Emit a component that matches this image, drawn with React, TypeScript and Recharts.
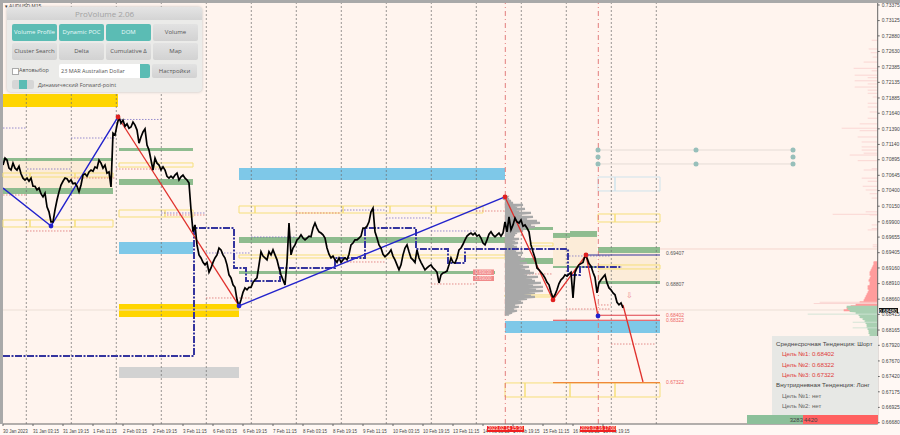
import React from 'react'
import {
  ComposedChart,
  Line,
  XAxis,
  YAxis,
  ReferenceArea,
  ReferenceLine,
  ReferenceDot
} from 'recharts'

// hourly-ish closes, AUDUSD
const legJan = [.7081,.7092,.7089,.7076,.7073,.7084,.7076,.7073,.7079,.7067,.7060,.7057,.7060,.7055,.7060,.7047,.7047,.7041,.7044,.7035,.7030,.7036,.7014,.7006,.6990,.6990,.7009,.7025,.7038,.7049,.7055,.7060,.7059,.7054,.7057,.7051,.7052,.7047,.7038,.7049,.7065,.7067,.7063,.7070,.7073,.7071,.7078,.7076,.7089,.7084,.7076,.7081,.7068,.7070,.7046]
const legFebA = [.7132,.7129,.7145,.7158,.7148,.7153,.7143,.7147,.7140,.7142,.7150,.7145,.7137,.7116,.7126,.7134,.7139,.7113,.7105,.7089,.7073,.7092,.7084,.7081,.7073,.7078,.7073,.7063,.7060,.7063,.7060,.7065,.7068,.7057,.7062,.7065,.7060,.7057,.7052]
const legFebB = [.7009,.6974,.6985,.6953,.6937,.6932,.6925,.6921,.6925,.6909,.6916,.6925,.6932,.6937,.6948,.6945,.6937,.6932,.6921,.6905,.6900,.6889,.6885,.6865,.6855,.6865,.6877,.6884,.6881,.6885,.6885,.6893,.6897,.6900,.6921,.6942,.6935,.6932,.6929,.6942,.6937,.6945,.6937,.6929,.6916,.6905,.6897,.6889,.6925,.6988,.6937,.6948,.6953,.6961]
const legFebC = [.6964,.6969,.6964,.6961,.6964,.6967,.6966,.6980,.6988,.6980,.6974,.6972,.6969,.6964,.6948,.6938,.6932,.6935,.6929,.6925,.6932,.6925,.6929,.6932,.6929,.6938,.6953,.6956,.6961,.6961,.6964,.6967,.6980,.6980,.6983,.6990,.7006,.7012,.6974,.6964,.6953,.6948,.6938,.6934,.6937,.6940,.6945,.6935,.6929,.6921,.6913,.6921,.6937,.6948,.6953,.6942,.6932,.6929,.6925,.6945,.6932,.6925,.6919,.6913,.6916,.6919,.6921,.6916,.6913,.6909,.6892,.6905,.6908,.6909,.6911,.6921,.6932,.6925,.6924,.6932,.6945,.6948,.6954,.6961,.6967,.6970,.6972,.6969,.6972,.6967,.6969,.6964,.6956,.6953,.6961,.6970,.6974,.6969,.6966,.6969,.6972,.6967,.6972]
const legFebD = [.6990,.6974,.6998,.6977,.6985,.6996,.6990,.6988,.6993,.6983,.6985,.6980,.6974,.6953,.6942,.6932,.6916,.6913,.6909,.6905,.6900,.6893,.6889,.6877,.6868,.6873,.6881,.6891,.6897,.6900,.6905,.6903,.6906,.6909,.6868,.6909,.6916,.6921,.6923,.6925,.6935,.6932,.6923,.6919,.6909,.6901,.6876,.6892,.6897,.6901,.6905,.6892,.6884,.6881,.6876,.6873,.6861,.6857,.6860,.6852]
const closes = [...legJan, ...legFebA, ...legFebB, ...legFebC, ...legFebD]

const priceTicks = [.73375,.73125,.7288,.7263,.72385,.72135,.71885,.7164,.7139,.7114,.70895,.70645,.704,.7015,.699,.69655,.69405,.6916,.6891,.6866,.68415,.68165,.6792,.6767,.6742,.67175,.66925,.6668]
const timeLabels = ['30 Jan 2023','31 Jan 03:15','31 Jan 19:15','1 Feb 11:15','2 Feb 03:15','2 Feb 19:15','3 Feb 11:15','6 Feb 03:15','6 Feb 19:15','7 Feb 11:15','8 Feb 03:15','8 Feb 19:15','9 Feb 11:15','10 Feb 03:15','10 Feb 19:15','13 Feb 11:15','14 Feb 03:15','14 Feb 19:15','15 Feb 11:15','16 Feb 03:15','16 Feb 19:15']
const timeTicks = timeLabels.map((_, i) => i * 15)
const dayLines = [11.65,34.15,56.65,79.15,101.65,124.15,146.65,169.15,191.65,214.15,236.65,259.15,281.65,304.15,326.65]
const signalBars = [251.15, 297.65]

// zones: [from bar, to bar, upper price, lower price]
type Zone = number[]
const wheatZones: Zone[] = [[0,55,.70875,.70442],[275,297,.69656,.69192],[297.5,328.5,.694,.68951]]
const goldZones: Zone[] = [[0,57.5,.71949,.7174],[58,118,.68583,.68374]]
const greyZones: Zone[] = [[58,118,.67573,.67397]]
const skyZones: Zone[] = [[58,95,.69576,.69384],[118,251,.70762,.7057],[251,328.5,.6831,.68118]]
const greenZones: Zone[] = [
  [0,55,.70923,.70875],[0,55,.70442,.70346],[58,95,.71083,.71035],[58,95,.70586,.7049],
  [118,251,.69656,.6956],[118,246,.69112,.69064],[251,275,.69817,.69769],[251,275,.6932,.69224],
  [275,283.5,.69721,.69641],[283.5,297,.69753,.69657],[275,297,.69192,.6916],
  [297.5,328.5,.69496,.694],[297.5,328.5,.68951,.68903]
]
const yellowBoxes: Zone[] = [
  [0,13.5,.69929,.69817],[13.5,36,.69929,.69817],[36,55,.69929,.69817],
  [0,13.5,.70682,.70618],[13.5,36,.70682,.70618],[36,55,.70682,.70618],
  [58,81,.70089,.69977],[81,95,.70089,.69977],[58,95,.70843,.70778],
  [118,126,.70153,.70041],[126,170,.70153,.70041],[170,193.5,.70153,.70041],[193.5,216.5,.70153,.70041],[216.5,240,.70153,.70041],
  [118,170,.69368,.6932],[170,251,.69368,.6932],[263.5,275,.6956,.69512],[251,275,.68727,.68695],
  [297.5,306,.70025,.69897],[306,328.5,.70025,.69897],[297.5,328.5,.69208,.69144],
  [251,261,.67317,.67092],[261,283.5,.67317,.67092],[283.5,306,.67317,.67092],[306,328.5,.67317,.67092]
]
const paleBoxes: Zone[] = [[297.5,306,.70618,.70394],[306,328.5,.70618,.70394]]

// daily level stubs: [from bar, to bar, price]
const purpleStubs = [[0,11.5,.71403],[34,56.5,.71243],[57.5,79,.7154],[12,34,.70746],[79,101.5,.70041],[101.5,124,.694],[124,146.5,.69656],[169,191.5,.70089],[191.5,214,.69961],[214,236.5,.69753],[251,258.5,.70057],[281.5,304,.69352]]
const redStubs = [[0,12,.7033],[12,34,.69753],[34,56.5,.70602],[56.5,79,.70746],[82,101,.70009],[101.5,124,.68679],[169,191.5,.69256],[214,236.5,.68903],[251,275,.69064],[281.5,304,.68502],[297.5,304,.68567],[304,326.5,.67941],[146.5,169,.70041],[236.5,259,.70073]]

// stepped volume line
const stepBars = [0,95.5,95.5,115.5,115.5,121.5,121.5,138.5,138.5,166,166,181,181,206.5,206.5,222.5,222.5,231,231,282.5,282.5,288.5,288.5,309.5]
const stepPrices = [.67749,.67749,.69801,.69801,.6916,.6916,.68951,.68951,.6916,.6916,.6932,.6932,.69801,.69801,.69464,.69464,.6924,.6924,.69464,.69464,.69047,.69047,.69176,.69176]

const waveUpBars = [0,24,57.5]
const waveUpPrices = [.70442,.69833,.7158]
const longUpBars = [118,251]
const longUpPrices = [.68551,.70298]
const waveDownBars = [57.5,118]
const waveDownPrices = [.7158,.68551]
const lastWaveBars = [251,275,291.5,297.5]
const lastWavePrices = [.70298,.68647,.69368,.6839]
const forecastBars = [310,320]
const forecastPrices = [.68567,.67332]

const bluePivots = [[24,.69833],[118,.68551],[297.5,.6839]]
const redPivots = [[57.5,.7158],[251,.70298],[275,.68647],[291.5,.69368]]
const channelDots = [[297.5,.71051],[297.5,.70939],[297.5,.70827],[346.5,.71051],[346.5,.70827],[395,.71051],[395,.70939],[395,.70827]]
const channelPrices = [.71051,.70827]

const targetLevels = [.68402,.68322,.67322]
const targetStarts = [297.5,275,275]

// session profile next to the first signal line
const sessionVolumes = [2,4,6,8,18,12,20,14,26,16,28,22,32,35,26,30,20,18,12,10,9,14,10,13,9,12,14,11,18,13,16,20,15,22,18,24,20,25,29,22,33,27,30,36,28,38,31,38,30,26,30,22,16,18,10,14,9,12,7,4]
// big profile on the price axis
const sellVolumes = [4,4,5,6,7,8,8,7,8,9,8,8,10,10,9,10,11,12,13,14,18,22,27,31,34]
const buyVolumes = [31,30,28,22,19,18,15,13,12,11,11,10,9,9,8,8,7,6,5,4,4,3,2]
const sellSpikes = [[.7281,6],[.7267,9],[.7261,7],[.7254,5],[.7246,14],[.7236,24],[.7232,6],[.7225,23],[.7221,10],[.7216,23],[.7211,10],[.7206,23],[.7201,10],[.7196,10],[.7190,5],[.7180,10],[.7174,10],[.7166,8],[.7156,10],[.7147,18],[.7140,36],[.7136,18],[.7126,20],[.7118,16],[.7110,16],[.7105,16],[.7100,14],[.7097,28],[.7088,20],[.7075,6],[.7073,14],[.7060,16],[.7055,10],[.7047,15],[.7041,12],[.7035,8],[.7028,6],[.7006,12],[.7002,45],[.7001,8],[.6985,6],[.6979,6],[.6977,10],[.6953,5],[.6950,5],[.6861,58],[.6859,64]]
const buySpikes = [[.6842,70],[.6829,25],[.6820,25],[.6785,10],[.6745,15],[.6741,12],[.6696,12]]

const panelButtons = [
  ['Volume Profile', 'Dynamic POC', 'DOM', 'Volume'],
  ['Cluster Search', 'Delta', 'Cumulative Δ', 'Map']
]
const trendRows = [
  ['Среднесрочная Тенденция: Шорт', '#444', 776],
  ['Цель №1: 0.68402', '#e03a3a', 782],
  ['Цель №2: 0.68322', '#e03a3a', 782],
  ['Цель №3: 0.67322', '#e03a3a', 782],
  ['Внутридневная Тенденция: Лонг', '#444', 776],
  ['Цель №1: нет', '#666', 782],
  ['Цель №2: нет', '#666', 782]
]

const LAST_BAR = 437.35
const zip = (bars: number[], prices: number[]) => bars.map((bar, i) => ({ bar, price: prices[i] }))
const priceRows = closes.map((price, bar) => ({ bar, price }))

// zigzag through the rows so one line paints a filled histogram
const profileRows = (base: number, dir: number, top: number, step: number, vols: number[]) =>
  vols.flatMap((v, i) => {
    const price = top - i * step
    return [{ bar: base, price }, { bar: base + (dir * v) / 2, price }]
  })

const sessionRows = profileRows(251, 1, .70298, .00032, sessionVolumes)
const sellRows = profileRows(LAST_BAR, -1, .6925, .00032, sellVolumes)
const buyRows = profileRows(LAST_BAR, -1, .68535, .00032, buyVolumes)

const seg = (x1: number, x2: number, y: number) => [{ x: x1, y }, { x: x2, y }] as any
const font = 'Liberation Sans, Arial, sans-serif'

const TimeTick = ({ x, y, payload }: any) => (
  <text x={x} y={y + 5} fontSize={4.5} fontFamily={font} fill="#444" textAnchor="start">
    {timeLabels[payload.value / 15]}
  </text>
)

const lineProps = { dot: false, activeDot: false, isAnimationActive: false, legendType: 'none' as const, dataKey: 'price' }

const ProVolumePanel = () => (
  <div style={{ position: 'absolute', left: 7, top: 7, width: 195, height: 85, background: '#ebebe9', borderRadius: 4, boxShadow: '0 0 3px #bbb', fontFamily: 'Open Sans, sans-serif', color: '#555' }}>
    <div style={{ position: 'absolute', left: 0, top: 0, width: 195, height: 13, background: 'linear-gradient(#e4e4e4,#d4d4d4)', borderRadius: '4px 4px 0 0', textAlign: 'center', fontSize: 8, lineHeight: '14px', color: '#a2a2a2' }}>ProVolume 2.06</div>
    {panelButtons.map((row, r) =>
      row.map((name, c) => {
        const teal = r === 0 && c < 3
        return (
          <div key={name} style={{ position: 'absolute', left: 5 + c * 47, top: 17 + r * 19, width: 45, height: 17, borderRadius: 2, background: teal ? '#5bbcb4' : 'linear-gradient(#e2e2e2,#d2d2d2)', color: teal ? '#eafafa' : '#555', fontSize: 6, lineHeight: '17px', textAlign: 'center', whiteSpace: 'nowrap' }}>{name}</div>
        )
      })
    )}
    <div style={{ position: 'absolute', left: 5, top: 61, width: 5, height: 5, background: '#fff', border: '0.5px solid #aaa' }} />
    <div style={{ position: 'absolute', left: 12, top: 59, fontSize: 5.5, lineHeight: '9px' }}>Автовыбор</div>
    <div style={{ position: 'absolute', left: 52, top: 57, width: 91, height: 14, background: '#fff', borderRadius: 2, fontSize: 5.5, lineHeight: '14px', textIndent: 2 }}>23 MAR Australian Dollar</div>
    <div style={{ position: 'absolute', left: 133, top: 57, width: 10, height: 14, background: '#5bbcb4', borderRadius: '0 2px 2px 0' }} />
    <div style={{ position: 'absolute', left: 145, top: 57, width: 45, height: 14, background: 'linear-gradient(#e2e2e2,#d2d2d2)', borderRadius: 2, fontSize: 6, lineHeight: '14px', textAlign: 'center' }}>Настройки</div>
    <div style={{ position: 'absolute', left: 5, top: 73, width: 22, height: 9, background: '#d6d6d6', borderRadius: 2 }} />
    <div style={{ position: 'absolute', left: 12, top: 73, width: 8, height: 9, background: '#5bbcb4' }} />
    <div style={{ position: 'absolute', left: 31, top: 73, fontSize: 5.5, lineHeight: '10px' }}>Динамический Forward-point</div>
  </div>
)

const TrendPanel = () => (
  <>
    <div style={{ position: 'absolute', left: 772, top: 336, width: 105.5, height: 79, background: '#e7e8e5' }} />
    {trendRows.map(([label, color, left], i) => (
      <div key={i} style={{ position: 'absolute', left: left as number, top: 340 + i * 10.33, fontFamily: font, fontSize: 6.2, lineHeight: '8px', color: color as string, whiteSpace: 'nowrap' }}>{label}</div>
    ))}
    <div style={{ position: 'absolute', left: 747, top: 415, width: 56, height: 9, background: '#8cc09a', fontFamily: font, fontSize: 6, lineHeight: '10px', textAlign: 'right', color: '#444' }}>3283</div>
    <div style={{ position: 'absolute', left: 803, top: 415, width: 74.5, height: 9, background: '#ff6060', fontFamily: font, fontSize: 6, lineHeight: '10px', color: '#444', textIndent: 1 }}>4420</div>
  </>
)

const SmallTag = ({ left, top, width, text }: any) => (
  <div style={{ position: 'absolute', left, top, width, height: 5.5, background: '#f02020', color: '#ffe', fontFamily: font, fontSize: 4.5, lineHeight: '6px', textAlign: 'center', whiteSpace: 'nowrap' }}>{text}</div>
)

const renderZones = (zones: Zone[], name: string, color: string) =>
  zones.map(([x1, x2, y1, y2], i) => (
    <ReferenceArea key={name + i} x1={x1} x2={x2} y1={y1} y2={y2} fill={color} fillOpacity={1} stroke="none" ifOverflow="visible" />
  ))

const renderBoxes = (zones: Zone[], name: string, color: string) =>
  zones.map(([x1, x2, y1, y2], i) => (
    <ReferenceArea key={name + i} x1={x1} x2={x2} y1={y1} y2={y2} fill="none" stroke={color} strokeWidth={1} ifOverflow="visible" />
  ))

export default function App() {
  return (
    <div style={{ position: 'absolute', left: 0, top: 0, width: 900, height: 435, background: '#fff8f4', overflow: 'hidden' }}>
      <div style={{ position: 'absolute', left: 3, top: 3, width: 875, height: 421, background: '#fff4ee' }} />
      <div style={{ position: 'absolute', left: 0, top: 0, width: 900, height: 2.5, background: '#a9a9a9' }} />
      <div style={{ position: 'absolute', left: 0, top: 0, width: 2.5, height: 424, background: '#a9a9a9' }} />
      <div style={{ position: 'absolute', left: 0, top: 0 }}>
        <ComposedChart width={900} height={435} data={priceRows} margin={{ top: 3, left: 3, right: 0, bottom: 0 }}>
          <XAxis dataKey="bar" type="number" domain={[0, LAST_BAR]} ticks={timeTicks} interval={0} height={11} tick={TimeTick} tickSize={2} stroke="#666" allowDataOverflow />
          <YAxis orientation="right" type="number" domain={[.66659, .73407]} ticks={priceTicks} interval={0} width={22.3} tickFormatter={(v: number) => v.toFixed(5)} tick={{ fontSize: 5, fontFamily: font, fill: '#444' }} tickSize={2} stroke="#666" allowDataOverflow />

          {renderZones(wheatZones, 'wheat', '#fcecd8')}
          {renderZones(goldZones, 'gold', '#ffd500')}
          {renderZones(greyZones, 'grey', '#d2d2d2')}
          {renderZones(skyZones, 'sky', '#7ec8e8')}
          {renderZones(greenZones, 'green', '#8fbc8f')}

          {dayLines.map(b => (
            <ReferenceLine key={'day' + b} x={b} stroke="#6e6e6e" strokeDasharray="2 2" strokeWidth={0.7} />
          ))}
          {signalBars.map(b => (
            <ReferenceLine key={'sig' + b} x={b} stroke="#e07070" strokeDasharray="5 3 1 3" strokeWidth={0.9} />
          ))}
          <ReferenceLine y={.68486} stroke="#ecdfd6" strokeWidth={1} />
          <ReferenceLine segment={seg(328.5, LAST_BAR, .69464)} stroke="#f5d5cd" strokeWidth={1} />

          {renderBoxes(yellowBoxes, 'yellow', '#f6df7a')}
          {renderBoxes(paleBoxes, 'pale', '#cfe3ec')}

          {purpleStubs.map(([a, b, p], i) => (
            <ReferenceLine key={'pu' + i} segment={seg(a, b, p)} stroke="#6a5fc0" strokeDasharray="1.5 1.5" strokeWidth={0.7} />
          ))}
          {redStubs.map(([a, b, p], i) => (
            <ReferenceLine key={'re' + i} segment={seg(a, b, p)} stroke="#d86060" strokeDasharray="1.5 1.5" strokeWidth={0.7} />
          ))}
          {channelPrices.map(p => (
            <ReferenceLine key={'ch' + p} segment={seg(297.5, 395, p)} stroke="#e5dcd6" strokeWidth={1} />
          ))}

          <Line {...lineProps} data={sessionRows} stroke="#a8a8a8" strokeWidth={2.2} />
          <Line {...lineProps} data={sellRows} stroke="#ff9c9c" strokeWidth={2.2} />
          <Line {...lineProps} data={buyRows} stroke="#a9d0b2" strokeWidth={2.2} />
          {sellSpikes.map(([p, v], i) => (
            <ReferenceLine key={'ss' + i} segment={seg(LAST_BAR - v / 2, LAST_BAR, p)} stroke="#f9d3d0" strokeWidth={0.9} />
          ))}
          {buySpikes.map(([p, v], i) => (
            <ReferenceLine key={'bs' + i} segment={seg(LAST_BAR - v / 2, LAST_BAR, p)} stroke="#cfe3d4" strokeWidth={0.9} />
          ))}

          <Line {...lineProps} data={zip(stepBars, stepPrices)} stroke="#34349e" strokeWidth={2} strokeDasharray="7 1.5 2 1.5" />
          <Line {...lineProps} data={zip(waveUpBars, waveUpPrices)} stroke="#2323cc" strokeWidth={1.4} />
          <Line {...lineProps} data={zip(longUpBars, longUpPrices)} stroke="#2323cc" strokeWidth={1.4} />
          <Line {...lineProps} data={zip(waveDownBars, waveDownPrices)} stroke="#e0302c" strokeWidth={1.3} />
          <Line {...lineProps} data={zip(lastWaveBars, lastWavePrices)} stroke="#e0302c" strokeWidth={1.3} />
          <Line {...lineProps} data={zip(forecastBars, forecastPrices)} stroke="#e0302c" strokeWidth={1.3} />

          <Line {...lineProps} stroke="#000" strokeWidth={1.7} />

          <ReferenceLine segment={seg(291.5, 328.5, .69368)} stroke="#34349e" strokeWidth={1.1} />
          <ReferenceLine segment={seg(targetStarts[0], 328.5, targetLevels[0])} stroke="#e0404a" strokeWidth={1.1} />
          <ReferenceLine segment={seg(targetStarts[1], 328.5, targetLevels[1])} stroke="#e0404a" strokeWidth={1.1} />
          <ReferenceLine segment={seg(targetStarts[2], 328.5, targetLevels[2])} stroke="#f0883a" strokeWidth={1.1} />

          {bluePivots.map(([b, p]) => (
            <ReferenceDot key={'bp' + b} x={b} y={p} r={2.4} fill="#2222cc" stroke="none" />
          ))}
          {redPivots.map(([b, p]) => (
            <ReferenceDot key={'rp' + b} x={b} y={p} r={2.4} fill="#e02020" stroke="none" />
          ))}
          {channelDots.map(([b, p], i) => (
            <ReferenceDot key={'cd' + i} x={b} y={p} r={2.5} fill="#97bfba" stroke="none" />
          ))}

          <ReferenceDot x={329} y={.69397} r={0} label={{ value: '0.69407', position: 'right', fontSize: 5, fontFamily: font, fill: '#555' }} />
          <ReferenceDot x={329} y={.68907} r={0} label={{ value: '0.68807', position: 'right', fontSize: 5, fontFamily: font, fill: '#555' }} />
          {targetLevels.map(l => (
            <ReferenceDot key={'tl' + l} x={329} y={l} r={0} label={{ value: l.toFixed(5), position: 'right', fontSize: 5, fontFamily: font, fill: '#e66' }} />
          ))}
          <ReferenceDot x={309} y={.68727} r={0} label={{ value: '⇩', position: 'right', fontSize: 8, fill: '#e88' }} />
          <ReferenceArea x1={235} x2={245.5} y1={.69136} y2={.69048} fill="#f08a8a" fillOpacity={1} stroke="none" label={{ value: '0.69030', fontSize: 4.5, fill: '#fdd', fontFamily: font }} ifOverflow="visible" />
          <ReferenceArea x1={235} x2={245.5} y1={.69032} y2={.68951} fill="#f08a8a" fillOpacity={1} stroke="none" label={{ value: '0.69000', fontSize: 4.5, fill: '#fdd', fontFamily: font }} ifOverflow="visible" />
        </ComposedChart>
      </div>

      <div style={{ position: 'absolute', left: 5, top: 2.5, fontFamily: font, fontSize: 5, color: '#333' }}>▾ AUDUSD,M15</div>
      <ProVolumePanel />
      <TrendPanel />
      <div style={{ position: 'absolute', left: 878.5, top: 307.5, width: 19, height: 5.5, background: '#111', color: '#fff', fontFamily: font, fontSize: 5, lineHeight: '6px', textAlign: 'center' }}>0.68480</div>
      <SmallTag left={487} top={426} width={37} text="2023.02.14 15:30" />
      <SmallTag left={580} top={426} width={36} text="2023.02.16 17:00" />
    </div>
  )
}
